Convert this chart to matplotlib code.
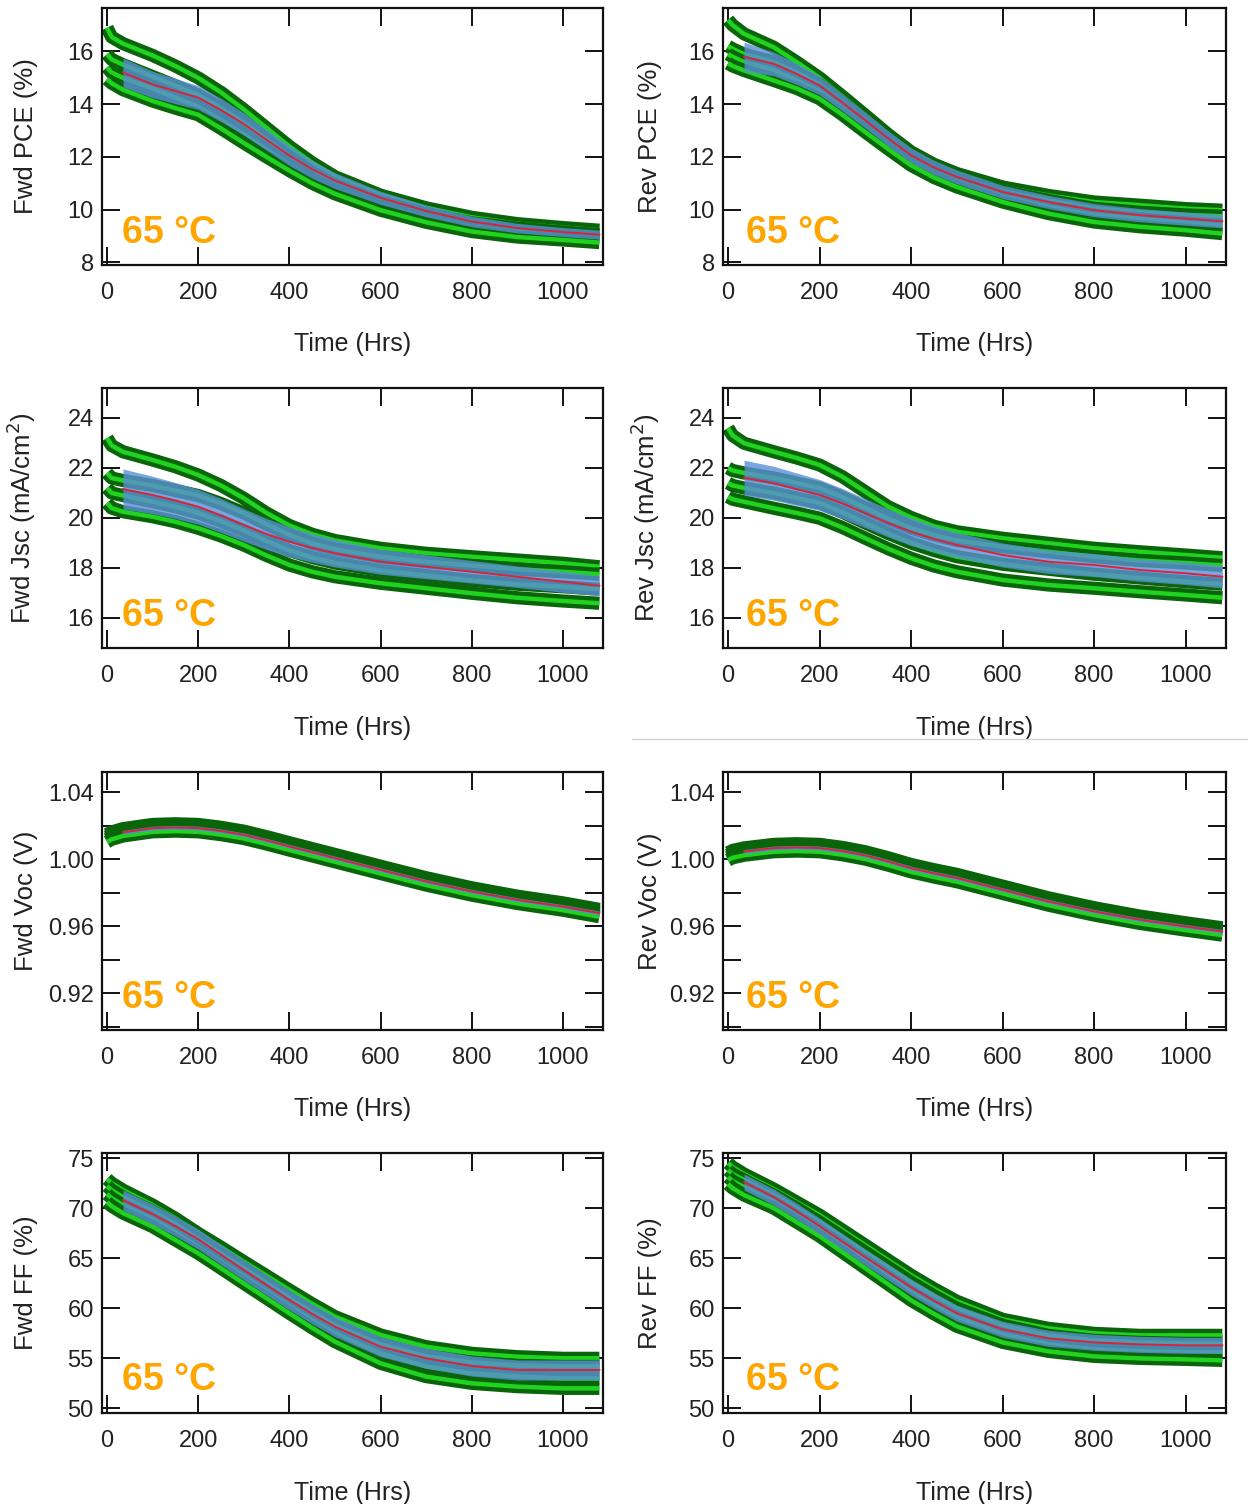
# -*- coding: utf-8 -*-

import numpy as np
import matplotlib
matplotlib.use('Agg')
import matplotlib.pyplot as plt
import matplotlib.patheffects as pe
from matplotlib.ticker import MultipleLocator, FormatStrFormatter
from matplotlib.lines import Line2D

plt.rcParams['font.family'] = ['Liberation Sans', 'DejaVu Sans']

# time axis shared by all device traces (hrs); mean / std start at 35 hrs
hours = [0, 10, 35, 100, 150, 200, 250, 300, 350, 400, 450, 500, 600, 700, 800, 900, 1000, 1080]
mean_hours = hours[2:]

# ---- Fwd / Rev PCE (%)
fwd_pce_traces = [
    [16.9, 16.55, 16.3, 15.85, 15.45, 15.0, 14.45, 13.8, 13.1, 12.4, 11.78, 11.25, 10.55, 10.07, 9.71, 9.47, 9.32, 9.22],
    [15.9, 15.7, 15.5, 15.05, 14.7, 14.35, 13.85, 13.3, 12.65, 12.0, 11.42, 10.95, 10.3, 9.85, 9.5, 9.3, 9.15, 9.05],
    [15.4, 15.2, 15.0, 14.6, 14.25, 13.9, 13.4, 12.85, 12.28, 11.7, 11.18, 10.75, 10.15, 9.7, 9.35, 9.15, 9.0, 8.9],
    [14.95, 14.8, 14.55, 14.12, 13.85, 13.6, 13.08, 12.53, 12.0, 11.48, 11.0, 10.6, 9.98, 9.52, 9.17, 8.96, 8.85, 8.75],
]
fwd_pce_mean = [15.2, 14.75, 14.5, 14.25, 13.78, 13.25, 12.65, 12.05, 11.53, 11.1, 10.45, 9.95, 9.55, 9.3, 9.15, 9.05]
fwd_pce_std = [0.55, 0.5, 0.48, 0.45, 0.44, 0.42, 0.4, 0.38, 0.34, 0.3, 0.25, 0.22, 0.2, 0.18, 0.17, 0.17]

rev_pce_traces = [
    [17.2, 17.0, 16.67, 16.16, 15.6, 15.0, 14.3, 13.58, 12.85, 12.19, 11.72, 11.37, 10.86, 10.54, 10.29, 10.17, 10.04, 9.98],
    [16.2, 16.1, 15.9, 15.6, 15.2, 14.75, 14.07, 13.35, 12.65, 12.0, 11.55, 11.2, 10.7, 10.35, 10.05, 9.9, 9.8, 9.75],
    [15.9, 15.8, 15.6, 15.3, 14.9, 14.5, 13.83, 13.15, 12.48, 11.85, 11.4, 11.05, 10.5, 10.1, 9.8, 9.65, 9.5, 9.4],
    [15.55, 15.45, 15.28, 14.9, 14.6, 14.21, 13.6, 12.94, 12.3, 11.68, 11.22, 10.86, 10.29, 9.85, 9.53, 9.35, 9.22, 9.09],
]
rev_pce_mean = [15.8, 15.53, 15.15, 14.71, 14.06, 13.39, 12.7, 12.06, 11.6, 11.24, 10.67, 10.29, 9.98, 9.79, 9.66, 9.56]
rev_pce_std = [0.55, 0.45, 0.4, 0.35, 0.32, 0.3, 0.29, 0.28, 0.27, 0.26, 0.25, 0.25, 0.25, 0.25, 0.25, 0.25]

# ---- Fwd / Rev Jsc (mA/cm2)
fwd_jsc_traces = [
    [23.2, 22.9, 22.65, 22.32, 22.05, 21.72, 21.3, 20.79, 20.2, 19.7, 19.35, 19.1, 18.79, 18.59, 18.45, 18.32, 18.19, 18.05],
    [21.8, 21.6, 21.5, 21.3, 21.1, 20.9, 20.58, 20.2, 19.75, 19.33, 18.98, 18.75, 18.45, 18.25, 18.1, 17.95, 17.85, 17.75],
    [21.2, 21.0, 20.9, 20.65, 20.45, 20.2, 19.87, 19.5, 19.08, 18.7, 18.42, 18.2, 17.9, 17.7, 17.5, 17.35, 17.25, 17.15],
    [20.6, 20.4, 20.25, 20.05, 19.85, 19.59, 19.28, 18.92, 18.5, 18.12, 17.85, 17.65, 17.39, 17.19, 16.99, 16.81, 16.68, 16.59],
]
fwd_jsc_mean = [21.16, 20.92, 20.7, 20.45, 20.1, 19.72, 19.36, 19.05, 18.8, 18.59, 18.25, 18.05, 17.85, 17.65, 17.45, 17.29]
fwd_jsc_std = [0.8, 0.75, 0.72, 0.7, 0.68, 0.65, 0.62, 0.6, 0.57, 0.55, 0.5, 0.48, 0.45, 0.43, 0.42, 0.4]

rev_jsc_traces = [
    [23.6, 23.3, 22.99, 22.65, 22.4, 22.12, 21.65, 21.05, 20.45, 20.02, 19.67, 19.45, 19.19, 18.99, 18.79, 18.65, 18.52, 18.41],
    [22.0, 21.9, 21.8, 21.6, 21.4, 21.2, 20.83, 20.4, 19.97, 19.6, 19.32, 19.1, 18.85, 18.65, 18.45, 18.3, 18.2, 18.1],
    [21.4, 21.3, 21.2, 21.0, 20.8, 20.6, 20.23, 19.8, 19.38, 19.0, 18.7, 18.45, 18.15, 17.95, 17.75, 17.6, 17.45, 17.35],
    [20.85, 20.75, 20.65, 20.39, 20.2, 19.99, 19.62, 19.19, 18.77, 18.39, 18.08, 17.85, 17.52, 17.32, 17.19, 17.05, 16.92, 16.81],
]
rev_jsc_mean = [21.61, 21.39, 21.15, 20.92, 20.58, 20.19, 19.8, 19.45, 19.16, 18.92, 18.52, 18.25, 18.12, 17.92, 17.79, 17.65]
rev_jsc_std = [0.7, 0.68, 0.65, 0.62, 0.6, 0.58, 0.56, 0.55, 0.52, 0.5, 0.48, 0.47, 0.46, 0.45, 0.45, 0.45]

# ---- Fwd / Rev Voc (V)
fwd_voc_traces = [
    [1.0147, 1.0162, 1.0182, 1.0207, 1.0211, 1.0207, 1.0190, 1.0167, 1.0134, 1.0098, 1.0063, 1.0028, 0.9958, 0.9889, 0.9829, 0.9779, 0.9739, 0.9700],
    [1.0132, 1.0147, 1.0167, 1.0192, 1.0196, 1.0192, 1.0175, 1.0152, 1.0119, 1.0083, 1.0048, 1.0013, 0.9943, 0.9874, 0.9814, 0.9764, 0.9724, 0.9685],
    [1.0118, 1.0133, 1.0153, 1.0178, 1.0182, 1.0178, 1.0161, 1.0138, 1.0105, 1.0069, 1.0034, 0.9999, 0.9929, 0.9860, 0.9800, 0.9750, 0.9710, 0.9671],
    [1.0103, 1.0118, 1.0138, 1.0163, 1.0167, 1.0163, 1.0146, 1.0123, 1.0090, 1.0054, 1.0019, 0.9984, 0.9914, 0.9845, 0.9785, 0.9735, 0.9695, 0.9656],
]
fwd_voc_mean = [1.0160, 1.0185, 1.0189, 1.0185, 1.0168, 1.0145, 1.0112, 1.0076, 1.0041, 1.0006, 0.9936, 0.9867, 0.9807, 0.9757, 0.9717, 0.9678]
fwd_voc_std = [0.0012] * 16

rev_voc_traces = [
    [1.0038, 1.0052, 1.0067, 1.0088, 1.0092, 1.0088, 1.0070, 1.0044, 1.0008, 0.9968, 0.9937, 0.9909, 0.9839, 0.9769, 0.9710, 0.9660, 0.9620, 0.9590],
    [1.0023, 1.0037, 1.0052, 1.0073, 1.0077, 1.0073, 1.0055, 1.0029, 0.9993, 0.9953, 0.9922, 0.9894, 0.9824, 0.9754, 0.9695, 0.9645, 0.9605, 0.9575],
    [1.0009, 1.0023, 1.0038, 1.0059, 1.0063, 1.0059, 1.0041, 1.0015, 0.9979, 0.9939, 0.9908, 0.9880, 0.9810, 0.9740, 0.9681, 0.9631, 0.9591, 0.9561],
    [0.9994, 1.0008, 1.0023, 1.0044, 1.0048, 1.0044, 1.0026, 1.0000, 0.9964, 0.9924, 0.9893, 0.9865, 0.9795, 0.9725, 0.9666, 0.9616, 0.9576, 0.9546],
]
rev_voc_mean = [1.0045, 1.0066, 1.0070, 1.0066, 1.0048, 1.0022, 0.9986, 0.9946, 0.9915, 0.9887, 0.9817, 0.9747, 0.9688, 0.9638, 0.9598, 0.9568]
rev_voc_std = [0.0012] * 16

# ---- Fwd / Rev FF (%)
fwd_ff_traces = [
    [72.9, 72.5, 71.8, 70.31, 68.98, 67.48, 66.1, 64.66, 63.25, 61.83, 60.45, 59.17, 57.34, 56.17, 55.51, 55.17, 55.01, 55.01],
    [72.2, 71.8, 71.1, 69.7, 68.4, 66.9, 65.45, 64.0, 62.5, 61.0, 59.6, 58.3, 56.4, 55.2, 54.6, 54.3, 54.2, 54.2],
    [71.4, 71.0, 70.3, 68.9, 67.6, 66.1, 64.65, 63.2, 61.7, 60.2, 58.8, 57.5, 55.5, 54.2, 53.5, 53.2, 53.0, 53.0],
    [70.6, 70.2, 69.5, 68.15, 66.82, 65.49, 64.0, 62.49, 61.0, 59.5, 58.05, 56.67, 54.51, 53.18, 52.51, 52.18, 52.01, 52.01],
]
fwd_ff_mean = [70.8, 69.4, 68.2, 66.9, 65.35, 63.82, 62.32, 60.83, 59.45, 58.17, 56.17, 55.01, 54.24, 53.84, 53.84, 53.84]
fwd_ff_std = [1.0] * 16

rev_ff_traces = [
    [74.5, 74.1, 73.4, 71.9, 70.6, 69.3, 67.8, 66.3, 64.8, 63.3, 61.95, 60.7, 58.9, 58.0, 57.5, 57.3, 57.3, 57.3],
    [73.8, 73.4, 72.8, 71.3, 70.0, 68.6, 67.1, 65.6, 64.1, 62.6, 61.25, 60.0, 58.3, 57.3, 56.8, 56.6, 56.5, 56.5],
    [73.1, 72.7, 72.1, 70.6, 69.2, 67.8, 66.25, 64.7, 63.15, 61.6, 60.3, 59.1, 57.4, 56.4, 55.9, 55.7, 55.6, 55.6],
    [72.4, 72.0, 71.3, 70.0, 68.6, 67.2, 65.6, 64.0, 62.4, 60.8, 59.45, 58.2, 56.6, 55.7, 55.2, 55.0, 54.9, 54.8],
]
rev_ff_mean = [72.6, 71.1, 69.7, 68.2, 66.65, 65.1, 63.6, 62.1, 60.75, 59.5, 57.9, 57.0, 56.6, 56.4, 56.3, 56.3]
rev_ff_std = [0.8] * 16

x_ticks = [0, 200, 400, 600, 800, 1000]
temp_label = '65 °C'

FIG_W, FIG_H = 1248, 1504
LEFT_X = (102, 603)
RIGHT_X = (723, 1226)
ROWS_Y = [(8, 265), (388, 648), (772, 1030), (1153, 1413)]


def _axes_rect(xs, ys):
    return [xs[0] / FIG_W, 1 - ys[1] / FIG_H,
            (xs[1] - xs[0]) / FIG_W, (ys[1] - ys[0]) / FIG_H]


def _draw_panel(ax, traces, mean, std, ylabel, ylim, major, minor, fmt, right):
    for trace in traces:
        ax.plot(hours, trace, color='#1fd31f', lw=3.2, solid_capstyle='butt',
                solid_joinstyle='round',
                path_effects=[pe.Stroke(linewidth=9.5, foreground='#0a640a'),
                              pe.Normal()], zorder=2)
    mean = np.array(mean)
    std = np.array(std)
    ax.fill_between(mean_hours, mean - std, mean + std, color='#5a8fd6',
                    alpha=0.8, lw=0, zorder=3)
    ax.plot(mean_hours, mean, color='#d8243a', lw=1.4, zorder=4)

    ax.set_xlim(-11, 1088)
    ax.set_ylim(*ylim)
    ax.set_xticks(x_ticks)
    ax.yaxis.set_major_locator(MultipleLocator(major))
    if minor:
        ax.yaxis.set_minor_locator(MultipleLocator(minor))
    ax.yaxis.set_major_formatter(FormatStrFormatter(fmt))

    ax.tick_params(which='both', direction='in', top=True, right=True,
                   length=13, width=1.4, color='#111111', labelsize=17,
                   labelcolor='#222222')
    ax.tick_params(axis='x', pad=12)
    ax.tick_params(axis='y', pad=6)
    for sp in ax.spines.values():
        sp.set_linewidth(1.6)
        sp.set_color('#111111')

    ax.set_xlabel('Time (Hrs)', fontsize=18, color='#222222')
    ax.xaxis.set_label_coords(0.5, -0.26)
    ax.set_ylabel(ylabel, fontsize=18.5, color='#222222')
    ax.yaxis.set_label_coords(-0.121 if right else -0.128, 0.5)

    ax.text(0.04 if not right else 0.045, 0.125, temp_label,
            transform=ax.transAxes, fontsize=27, fontweight='bold',
            color='#ffa500', ha='left', va='center', zorder=5)


panels = [
    (LEFT_X, 0, fwd_pce_traces, fwd_pce_mean, fwd_pce_std, 'Fwd PCE (%)', (7.9, 17.65), 2, None, '%d'),
    (RIGHT_X, 0, rev_pce_traces, rev_pce_mean, rev_pce_std, 'Rev PCE (%)', (7.9, 17.65), 2, None, '%d'),
    (LEFT_X, 1, fwd_jsc_traces, fwd_jsc_mean, fwd_jsc_std, 'Fwd Jsc (mA/cm$^2$)', (14.8, 25.2), 2, None, '%d'),
    (RIGHT_X, 1, rev_jsc_traces, rev_jsc_mean, rev_jsc_std, 'Rev Jsc (mA/cm$^2$)', (14.8, 25.2), 2, None, '%d'),
    (LEFT_X, 2, fwd_voc_traces, fwd_voc_mean, fwd_voc_std, 'Fwd Voc (V)', (0.898, 1.052), 0.04, 0.02, '%.2f'),
    (RIGHT_X, 2, rev_voc_traces, rev_voc_mean, rev_voc_std, 'Rev Voc (V)', (0.898, 1.052), 0.04, 0.02, '%.2f'),
    (LEFT_X, 3, fwd_ff_traces, fwd_ff_mean, fwd_ff_std, 'Fwd FF (%)', (49.55, 75.5), 5, None, '%d'),
    (RIGHT_X, 3, rev_ff_traces, rev_ff_mean, rev_ff_std, 'Rev FF (%)', (49.55, 75.5), 5, None, '%d'),
]

fig = plt.figure(figsize=(FIG_W / 100, FIG_H / 100), dpi=100)

for xs, row, traces, mean, std, ylabel, ylim, major, minor, fmt in panels:
    ax = fig.add_axes(_axes_rect(xs, ROWS_Y[row]))
    _draw_panel(ax, traces, mean, std, ylabel, ylim, major, minor, fmt,
                xs == RIGHT_X)

# faint separator line left over in the source image
fig.add_artist(Line2D([632 / FIG_W, 1.0], [1 - 739 / FIG_H] * 2,
                      color='#d4d4d4', lw=1))

fig.savefig('out.png', dpi=100)
